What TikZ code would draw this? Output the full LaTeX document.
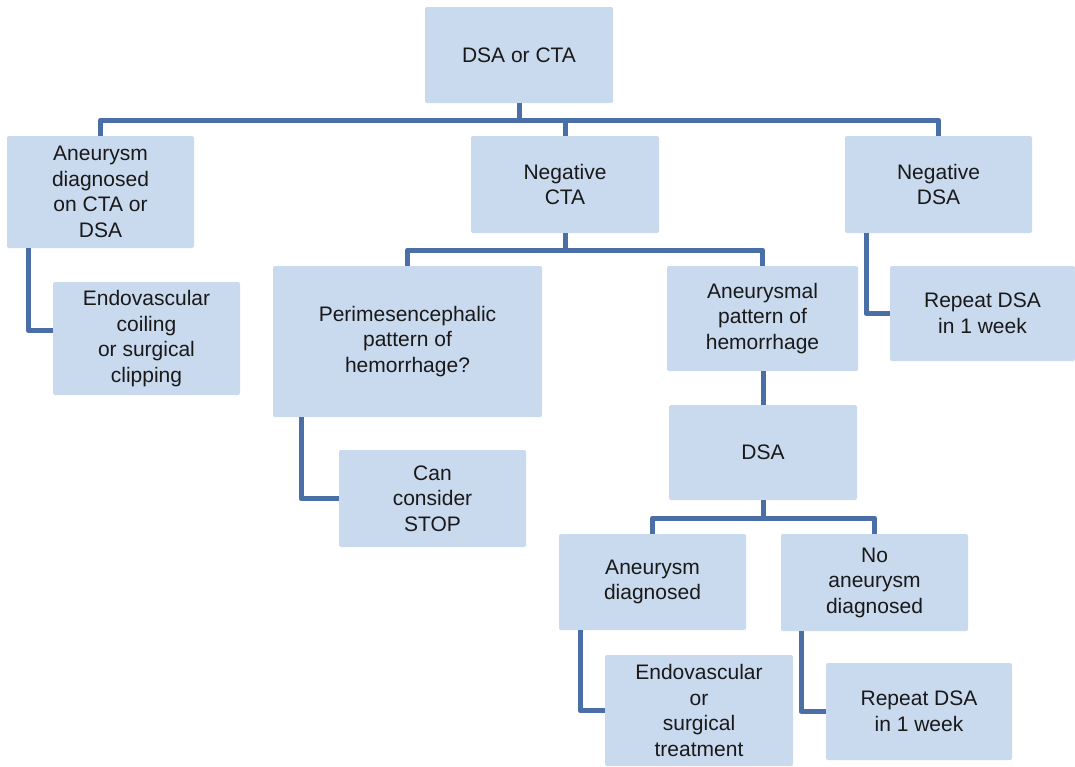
\documentclass[tikz,border=0pt]{standalone}
\usepackage{fontspec}
\setmainfont{Liberation Sans}
\definecolor{boxfill}{HTML}{C9D9EE}
\definecolor{linkcol}{HTML}{4A6FA6}
\begin{document}
\begin{tikzpicture}[x=1pt,y=-1pt,
  box/.style={fill=boxfill, rounded corners=2pt, inner sep=0pt, align=center,
    font=\fontsize{21}{25.5}\selectfont, text=black!90},
  link/.style={draw=linkcol, line width=5pt, line join=round}]
\useasboundingbox (0,0) rectangle (1075,766);
% boxes
\node[box, minimum width=188pt, minimum height=96pt] (n1) at (519,55) {DSA or CTA};
\node[box, minimum width=187pt, minimum height=112pt] (n2) at (100.5,192) {Aneurysm\\diagnosed\\on CTA or\\DSA};
\node[box, minimum width=188pt, minimum height=97pt] (n3) at (565,184.5) {Negative\\CTA};
\node[box, minimum width=187pt, minimum height=97pt] (n4) at (938.5,184.5) {Negative\\DSA};
\node[box, minimum width=187pt, minimum height=113pt] (n5) at (146.5,338.5) {Endovascular\\coiling\\or surgical\\clipping};
\node[box, minimum width=269pt, minimum height=151pt] (n6) at (407.5,341.5) {Perimesencephalic\\pattern of\\hemorrhage?};
\node[box, minimum width=191pt, minimum height=105pt] (n7) at (762.5,318.5) {Aneurysmal\\pattern of\\hemorrhage};
\node[box, minimum width=185pt, minimum height=95pt] (n8) at (982.5,313.5) {Repeat DSA\\in 1 week};
\node[box, minimum width=187pt, minimum height=97pt] (n9) at (432.5,498.5) {Can\\consider\\STOP};
\node[box, minimum width=188pt, minimum height=95pt] (n10) at (763,452.5) {DSA};
\node[box, minimum width=187pt, minimum height=96pt] (n11) at (652.5,582) {Aneurysm\\diagnosed};
\node[box, minimum width=187pt, minimum height=97pt] (n12) at (874.5,582.5) {No\\aneurysm\\diagnosed};
\node[box, minimum width=188pt, minimum height=111pt] (n13) at (699,710.5) {Endovascular\\or\\surgical\\treatment};
\node[box, minimum width=186pt, minimum height=97pt] (n14) at (919,711.5) {Repeat DSA\\in 1 week};
% helper coordinates
\coordinate (b1) at (519,120);
\coordinate (b3) at (565,250);
\coordinate (b10) at (763,518);
\coordinate (c5) at (28,330);
\coordinate (c8) at (866,0);
\coordinate (c9) at (301,0);
\coordinate (c13) at (580,0);
\coordinate (c14) at (801,0);
% connectors
\draw[link] (n1.south) -- (b1);
\draw[link] (n2.north) |- (b1) -| (n4.north);
\draw[link] (b1) -| (n3.north);
\draw[link] (n2.south -| c5) |- (n5.west |- c5);
\draw[link] (n4.south -| c8) |- (n8.west);
\draw[link] (n3.south) -- (b3);
\draw[link] (n6.north) |- (b3) -| (n7.north);
\draw[link] (n6.south -| c9) |- (n9.west);
\draw[link] (n7.south -| n10.north) -- (n10.north);
\draw[link] (n10.south) -- (b10);
\draw[link] (n11.north) |- (b10) -| (n12.north);
\draw[link] (n11.south -| c13) |- (n13.west);
\draw[link] (n12.south -| c14) |- (n14.west);
\end{tikzpicture}
\end{document}
